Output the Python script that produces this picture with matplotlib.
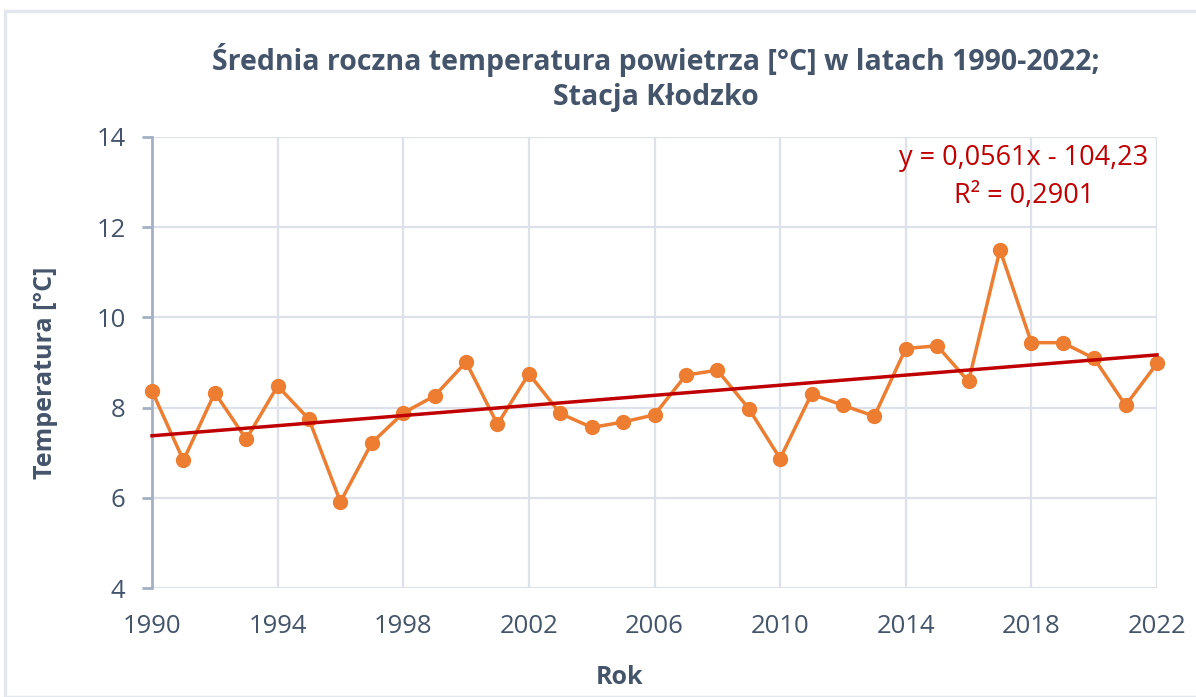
import numpy as np
import matplotlib
matplotlib.use("Agg")
import matplotlib.pyplot as plt
from matplotlib.patches import Rectangle

years = list(range(1990, 2023))
temps = [8.37, 6.83, 8.33, 7.30, 8.48, 7.74, 5.91, 7.22, 7.88, 8.26, 9.01,
         7.63, 8.75, 7.87, 7.56, 7.68, 7.84, 8.72, 8.83, 7.98, 6.87,
         8.30, 8.05, 7.81, 9.31, 9.37, 8.58, 11.50, 9.44, 9.44, 9.09,
         8.05, 8.98]
x_ticks = [1990, 1994, 1998, 2002, 2006, 2010, 2014, 2018, 2022]
y_ticks = [4, 6, 8, 10, 12, 14]
title_1 = "Średnia roczna temperatura powietrza [°C] w latach 1990-2022;"
title_2 = "Stacja Kłodzko"
eq_line = "y = 0,0561x - 104,23"
r2_line = "R² = 0,2901"

TXT = "#44546A"
FONT = ["Open Sans", "DejaVu Sans"]
plt.rcParams['font.family'] = FONT

W, H = 1196, 697
fig = plt.figure(figsize=(W / 100, H / 100), dpi=100)
fig.patch.set_facecolor("white")
fig.patches.append(Rectangle((4.5 / W, 0), 2, (H - 11) / H, transform=fig.transFigure,
                             fill=False, edgecolor="#E3E7EE", linewidth=2.5))

ax = fig.add_axes([152 / W, (H - 588) / H, 1005 / W, 451 / H])
ax.set_xlim(1990, 2022)
ax.set_ylim(4, 14)
ax.set_xticks(x_ticks)
ax.set_yticks(y_ticks)
ax.grid(True, color="#DDE2EA", linewidth=1.6)
ax.set_axisbelow(True)
for s in ["top", "right", "bottom"]:
    ax.spines[s].set_visible(False)
ax.spines["left"].set_color("#A4B1C4")
ax.spines["left"].set_linewidth(2)
ax.tick_params(axis="y", direction="out", length=7, width=2, color="#A4B1C4",
               labelsize=18.5, labelcolor=TXT, pad=12)
ax.tick_params(axis="x", length=0, labelsize=18.5, labelcolor=TXT, pad=19)

ax.plot(years, temps, color="#ED7D31", linewidth=2.5, marker="o", markersize=10,
        clip_on=False, zorder=3)

coef = np.polyfit(years, temps, 1)
xx = np.array([years[0], years[-1]])
ax.plot(xx, np.polyval(coef, xx), color="#C00000", linewidth=2.5, zorder=4, clip_on=False)

fig.text(1024 / W, 1 - 158 / H, eq_line, ha="center", va="center",
         fontsize=19.5, color="#C00000")
fig.text(1024 / W, 1 - 196 / H, r2_line, ha="center", va="center",
         fontsize=19.5, color="#C00000")

fig.text(656 / W, 1 - 60 / H, title_1, ha="center", va="center", fontsize=20.5,
         fontweight="bold", color=TXT)
fig.text(656 / W, 1 - 98 / H, title_2, ha="center", va="center", fontsize=20.5,
         fontweight="bold", color=TXT)
fig.text(46 / W, 1 - 373 / H, "Temperatura [°C]", ha="center", va="center",
         rotation=90, fontsize=18, fontweight="bold", color=TXT)
fig.text(620 / W, 1 - 678 / H, "Rok", ha="center", va="center", fontsize=18,
         fontweight="bold", color=TXT)

fig.savefig("out.png", dpi=100, facecolor="white")
